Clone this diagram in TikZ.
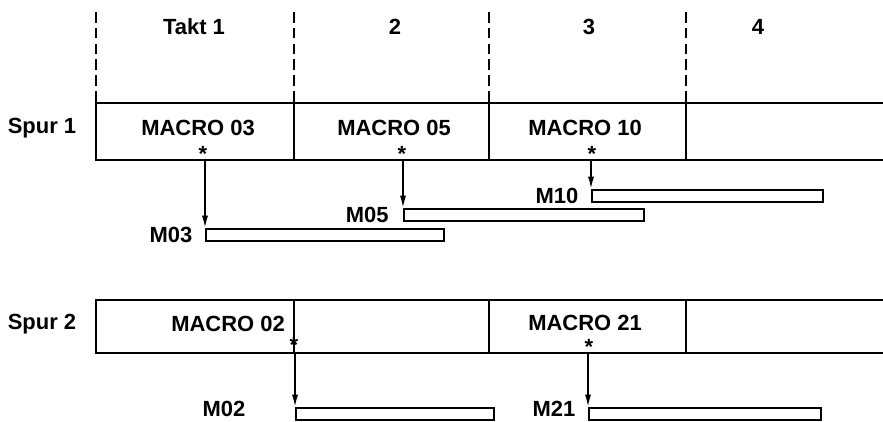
\documentclass[tikz,border=0pt]{standalone}
\usepackage{fontspec}
\setsansfont{Liberation Sans}
\usetikzlibrary{arrows.meta,positioning}

\begin{document}
\begin{tikzpicture}[x=0.02cm,y=-0.02cm,>={Latex[length=7pt,width=3.5pt]},every node/.style={font=\sffamily\bfseries\fontsize{12.5}{14}\selectfont,inner sep=1pt},track/.style={line width=1.1pt},taktline/.style={line width=0.9pt,dash pattern=on 6pt off 3pt},macrobar/.style={draw,line width=1.1pt,rectangle,minimum height=0.24cm,anchor=north west,inner sep=0pt},call/.style={->,line width=1pt}]
\useasboundingbox (0,0) rectangle (883,422);
% Takt grid
\foreach \x in {96,294,489,686} \draw[taktline] (\x,12)--(\x,103);
\node (takt1) at (194,27) {Takt 1};\node (takt2) at (395,27) {2};\node (takt3) at (589,27) {3};\node (takt4) at (758,27) {4};
% Spur 1
\draw[track] (883,103)--(96,103)--(96,160)--(883,160);
\foreach \x in {294,489,686} \draw[track] (\x,103)--(\x,160);
\node (spur1) at (42,128) {Spur 1};
\node (mac03) at (198,128) {MACRO 03};\node (mac05) at (394,128) {MACRO 05};\node (mac10) at (585,128) {MACRO 10};
\node (st03) at (203,154) {*};\node (st05) at (402,154) {*};\node (st10) at (592,154) {*};
\coordinate (c03) at (205,160);\coordinate (c05) at (403,160);\coordinate (c10) at (591,160);
\node[macrobar,minimum width=4.76cm] (b03) at (205,228) {};
\node[macrobar,minimum width=4.8cm] (b05) at (403,208) {};
\node[macrobar,minimum width=4.62cm] (b10) at (591,189) {};
\node[left=6pt of b03] (l03) {M03};\node[left=7pt of b05] (l05) {M05};\node[left=6pt of b10] (l10) {M10};
\draw[call] (c03)--(b03.north west);\draw[call] (c05)--(b05.north west);\draw[call] (c10)--(b10.north west);
% Spur 2
\draw[track] (883,300)--(96,300)--(96,353)--(883,353);
\foreach \x in {294,489,686} \draw[track] (\x,300)--(\x,353);
\node (spur2) at (42,324) {Spur 2};
\node (mac02) at (228,324) {MACRO 02};\node (mac21) at (585,323) {MACRO 21};
\node (st02) at (294,345) {*};\node (st21) at (589,347) {*};
\coordinate (c02) at (295,353);\coordinate (c21) at (588,353);
\node[macrobar,minimum width=3.96cm] (b02) at (295,407) {};
\node[macrobar,minimum width=4.64cm] (b21) at (588,407) {};
\node[left=0.95cm of b02,yshift=3pt] (l02) {M02};\node[left=6pt of b21,yshift=3pt] (l21) {M21};
\draw[call] (c02)--(b02.north west);\draw[call] (c21)--(b21.north west);
\end{tikzpicture}
\end{document}
